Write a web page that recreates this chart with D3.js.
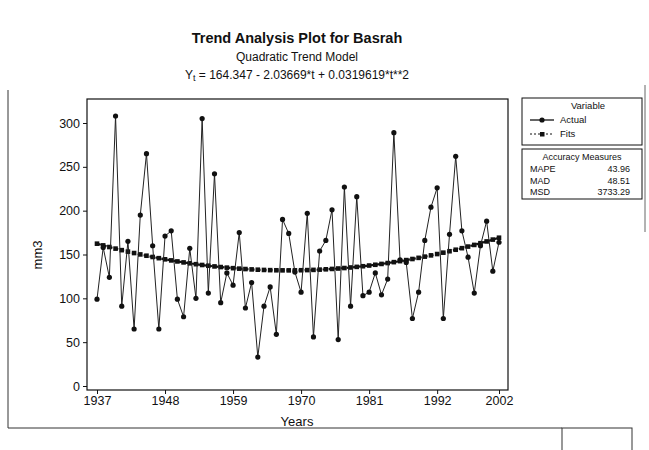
<!DOCTYPE html>
<html><head><meta charset="utf-8">
<script src="https://cdn.jsdelivr.net/npm/d3@7/dist/d3.min.js"></script>
<style>
body{margin:0;background:#fff;}
text{font-family:"Liberation Sans",Arial,sans-serif;fill:#111;}
</style></head>
<body>
<svg id="c" width="649" height="450"></svg>
<script>
const startYear = 1937;
const actual = [99,158,124,308,91,165,65,195,265,160,65,171,177,99,79,157,100,305,106,242,95,
  129,115,175,89,118,33,91,113,59,190,174,130,107,197,56,154,166,201,53,227,91,216,103,
  107,129,104,122,289,144,141,77,107,166,204,226,77,173,262,177,147,106,160,188,131,164];
const fits = [162.34,160.40,158.52,156.71,154.96,153.28,151.66,150.10,148.61,147.18,145.81,144.51,143.27,142.10,140.99,139.94,138.96,138.04,137.19,136.40,135.67,135.01,134.41,133.88,133.41,133.00,132.66,132.38,132.16,132.01,131.92,131.90,131.94,132.05,132.22,132.45,132.75,133.11,133.53,134.02,134.57,135.19,135.87,136.61,137.42,138.29,139.23,140.23,141.29,142.42,143.61,144.86,146.18,147.57,149.01,150.52,152.10,153.74,155.44,157.21,159.04,160.93,162.89,164.91,167.00,169.15];
const xTicks = [1937,1948,1959,1970,1981,1992,2002];
const yTicks = [0,50,100,150,200,250,300];
const measureNames = ["MAPE","MAD","MSD"];
const measureValues = ["43.96","48.51","3733.29"];

const years = actual.map((d,i)=>startYear+i);
const svg = d3.select("#c");
const x = d3.scaleLinear().domain([1937,2002]).range([97,499]);
const y = d3.scaleLinear().domain([0,300]).range([386,123]);

// frame
svg.append("rect").attr("x",87).attr("y",99).attr("width",421).attr("height",291)
  .attr("fill","none").attr("stroke","#111").attr("stroke-width",1.2);

// axes
const yAxis = svg.append("g").attr("transform","translate(87,0)")
  .call(d3.axisLeft(y).tickValues(yTicks).tickSize(4).tickPadding(3));
const xAxis = svg.append("g").attr("transform","translate(0,390)")
  .call(d3.axisBottom(x).tickValues(xTicks).tickFormat(d3.format("d")).tickSize(4).tickPadding(2));
[yAxis,xAxis].forEach(a=>{
  a.select(".domain").remove();
  a.selectAll("line").attr("stroke","#111");
  a.selectAll("text").style("font-size","12.5px").attr("fill","#111");
});

// fits
const fitLine = d3.line().x((d,i)=>x(years[i])).y(d=>y(d));
svg.append("path").datum(fits).attr("d",fitLine).attr("fill","none")
  .attr("stroke","#111").attr("stroke-width",2.2).attr("stroke-dasharray","4,2");
svg.selectAll(".fs").data(fits).enter().append("rect")
  .attr("x",(d,i)=>x(years[i])-2.3).attr("y",d=>y(d)-2.3).attr("width",4.6).attr("height",4.6).attr("fill","#111");

// actual
svg.append("path").datum(actual).attr("d",fitLine).attr("fill","none")
  .attr("stroke","#222").attr("stroke-width",1);
svg.selectAll(".ac").data(actual).enter().append("circle")
  .attr("cx",(d,i)=>x(years[i])).attr("cy",d=>y(d)).attr("r",2.6).attr("fill","#111");

// titles
svg.append("text").attr("x",297).attr("y",43).attr("text-anchor","middle")
  .style("font-size","14.5px").style("font-weight","bold").text("Trend Analysis Plot for Basrah");
svg.append("text").attr("x",297).attr("y",61).attr("text-anchor","middle")
  .style("font-size","12px").text("Quadratic Trend Model");
const eq = svg.append("text").attr("x",297).attr("y",79).attr("text-anchor","middle").style("font-size","12px");
eq.append("tspan").text("Y");
eq.append("tspan").attr("dy",2).style("font-size","9px").text("t");
eq.append("tspan").attr("dy",-2).text(" = 164.347 - 2.03669*t + 0.0319619*t**2");

svg.append("text").attr("x",297).attr("y",426).attr("text-anchor","middle").style("font-size","13px").text("Years");
svg.append("text").attr("transform","translate(42,255) rotate(-90)").attr("text-anchor","middle")
  .style("font-size","13px").text("mm3");

// legend
svg.append("rect").attr("x",522).attr("y",98).attr("width",120).attr("height",47)
  .attr("fill","none").attr("stroke","#111").attr("stroke-width",1);
svg.append("text").attr("x",588).attr("y",109).attr("text-anchor","middle").style("font-size","9.5px").text("Variable");
svg.append("line").attr("x1",530).attr("x2",554).attr("y1",120).attr("y2",120).attr("stroke","#111").attr("stroke-width",1.3);
svg.append("circle").attr("cx",542).attr("cy",120).attr("r",2.6).attr("fill","#111");
svg.append("text").attr("x",560).attr("y",123).style("font-size","9.5px").text("Actual");
svg.append("line").attr("x1",530).attr("x2",554).attr("y1",134).attr("y2",134).attr("stroke","#111").attr("stroke-dasharray","2,2");
svg.append("rect").attr("x",540).attr("y",132).attr("width",4.5).attr("height",4.5).attr("fill","#111");
svg.append("text").attr("x",560).attr("y",137).style("font-size","9.5px").text("Fits");

svg.append("rect").attr("x",522).attr("y",149).attr("width",120).attr("height",50)
  .attr("fill","none").attr("stroke","#111").attr("stroke-width",1);
svg.append("text").attr("x",582).attr("y",160).attr("text-anchor","middle").style("font-size","9px").text("Accuracy Measures");
measureNames.forEach((m,i)=>{
  svg.append("text").attr("x",530).attr("y",172+i*11.5).style("font-size","9px").text(m);
  svg.append("text").attr("x",630).attr("y",172+i*11.5).attr("text-anchor","end").style("font-size","9px").text(measureValues[i]);
});

// scan border lines
svg.append("line").attr("x1",8).attr("x2",8).attr("y1",90).attr("y2",428).attr("stroke","#333").attr("stroke-width",1);
svg.append("line").attr("x1",8).attr("x2",562).attr("y1",428).attr("y2",428).attr("stroke","#333").attr("stroke-width",1);
svg.append("rect").attr("x",562).attr("y",428).attr("width",70).attr("height",26).attr("fill","none").attr("stroke","#333");
svg.append("line").attr("x1",645).attr("x2",645).attr("y1",85).attr("y2",232).attr("stroke","#666").attr("stroke-width",1);
</script>
</body></html>
